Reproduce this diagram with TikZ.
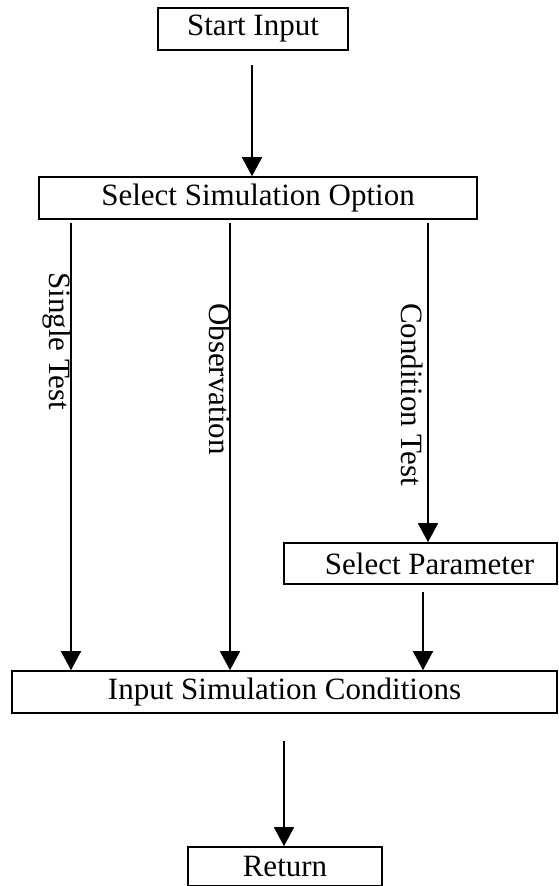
\documentclass[tikz,border=0pt]{standalone}
\usepackage{fontspec}
\setmainfont{Liberation Serif}
\usetikzlibrary{arrows.meta}
\begin{document}
\begin{tikzpicture}[x=1pt,y=-1pt,
  box/.style={draw, line width=1.6pt, inner sep=0pt, minimum height=42pt, font=\fontsize{31}{37}\selectfont},
  arr/.style={line width=1.6pt, -{Triangle[length=19pt,width=20pt]}},
  ln/.style={line width=1.6pt},
  lbl/.style={rotate=-90, anchor=base west, inner sep=0pt, font=\fontsize{31}{37}\selectfont}]
\useasboundingbox (0,0) rectangle (558,886);
\node[box, minimum width=190pt] (start) at (253,29) {Start Input};
\node[box, minimum width=438pt] (select) at (258,198) {Select Simulation Option};
\node[box, minimum width=273pt, minimum height=41pt] (param) at (420.5,563.5) {\hspace*{18pt}Select Parameter};
\node[box, minimum width=545pt] (input) at (284.5,692) {Input Simulation Conditions};
\node[box, minimum width=194pt, minimum height=39pt] (ret) at (285,866.5) {Return};
\coordinate (cs) at (71,0);
\coordinate (co) at (230,0);
\coordinate (cc) at (428,0);
\coordinate (cp) at (423,0);
\coordinate (cm) at (252,0);
\coordinate (cr) at (284,0);
\draw[arr, shorten <=14pt] (start.south -| cm) -- (select.north -| cm);
\draw[arr, shorten <=3pt] (select.south -| cs) -- (input.north -| cs);
\draw[arr, shorten <=3pt] (select.south -| co) -- (input.north -| co);
\draw[arr, shorten <=3pt] (select.south -| cc) -- (param.north -| cc);
\draw[arr, shorten <=7pt] (param.south -| cp) -- (input.north -| cp);
\draw[arr, shorten <=27pt] (input.south -| cr) -- (ret.north -| cr);
\node[lbl] (tsingle) at (49.5,272) {Single Test};
\node[lbl] (tobs) at (209,303) {Observation};
\node[lbl] (tcond) at (401,303) {Condition Test};
\end{tikzpicture}
\end{document}
